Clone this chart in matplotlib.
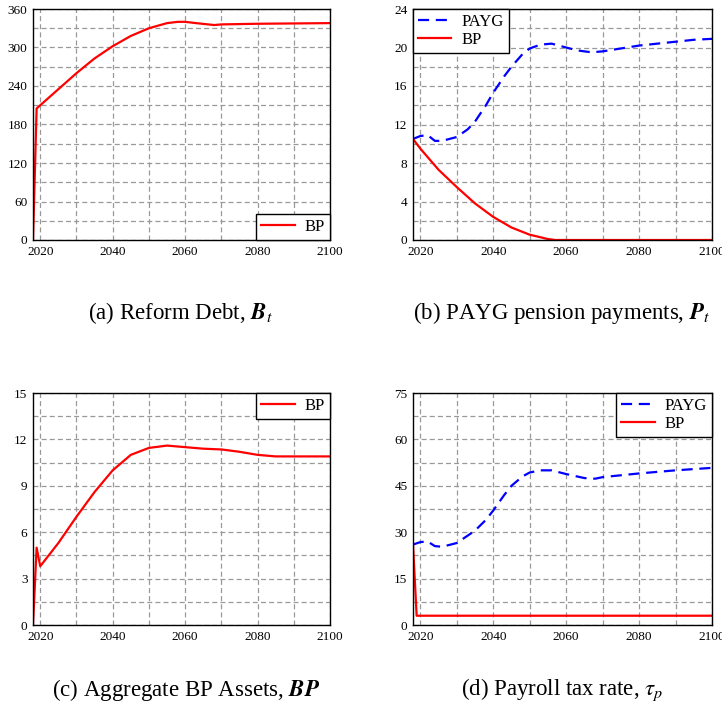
import numpy as np
import matplotlib
matplotlib.use("Agg")
import matplotlib.pyplot as plt
from matplotlib.ticker import MultipleLocator

plt.rcParams['font.family'] = 'Liberation Serif'
plt.rcParams['mathtext.fontset'] = 'stix'

# (a) Reform debt
debt_years = [2018, 2019, 2020, 2025, 2030, 2035, 2040, 2045, 2050, 2055, 2058, 2060,
              2063, 2068, 2070, 2080, 2090, 2100]
debt_bp = [0, 205, 210, 235, 260, 283, 302, 318, 330, 338, 340, 340,
           338, 335, 336, 337, 337.5, 338]

# (b) PAYG pension payments
pen_years_payg = [2018, 2020, 2022, 2024, 2026, 2030, 2033, 2035, 2038, 2040, 2043, 2045,
                  2048, 2050, 2053, 2056, 2060, 2063, 2067, 2070, 2075, 2080, 2085, 2090,
                  2095, 2100]
pen_payg = [10.5, 10.8, 10.9, 10.3, 10.3, 10.7, 11.5, 12.3, 14.0, 15.3, 17.0, 18.0,
            19.3, 19.9, 20.3, 20.4, 20.0, 19.7, 19.5, 19.6, 19.9, 20.2, 20.4, 20.6,
            20.8, 20.9]
pen_years_bp = [2018, 2020, 2025, 2030, 2035, 2040, 2045, 2050, 2055, 2057, 2070, 2100]
pen_bp = [10.5, 9.5, 7.3, 5.5, 3.8, 2.4, 1.3, 0.55, 0.1, 0.0, 0.0, 0.0]

# (c) Aggregate BP assets
ast_years = [2018, 2019, 2020, 2025, 2030, 2035, 2040, 2045, 2050, 2055, 2060, 2065,
             2070, 2075, 2080, 2085, 2090, 2100]
ast_bp = [0, 5.0, 3.8, 5.3, 7.0, 8.6, 10.0, 11.0, 11.45, 11.6, 11.5, 11.4,
          11.35, 11.2, 11.0, 10.9, 10.9, 10.9]

# (d) Payroll tax rate
tax_years_payg = [2018, 2020, 2022, 2024, 2026, 2030, 2035, 2038, 2040, 2043, 2045, 2048,
                  2050, 2053, 2056, 2060, 2065, 2068, 2070, 2080, 2090, 2100]
tax_payg = [26, 26.8, 27, 25.5, 25.3, 26.5, 30.5, 34, 37, 42, 45, 48,
            49.3, 50, 50, 48.8, 47.5, 47.3, 47.8, 49, 50, 50.8]
tax_years_bp = [2018, 2019, 2050, 2100]
tax_bp = [26, 3.0, 3.0, 3.0]

captions = [r'(a) Reform Debt, $\mathbfit{B}_t$',
            r'(b) PAYG pension payments, $\mathbfit{P}_t$',
            r'(c) Aggregate BP Assets, $\mathbfit{BP}$',
            r'(d) Payroll tax rate, $\tau_p$']

fig = plt.figure(figsize=(7.22, 7.14), dpi=100)
W, H = 722, 714


def make_ax(x0, y0, x1, y1):
    return fig.add_axes([x0 / W, 1 - y1 / H, (x1 - x0) / W, (y1 - y0) / H])


def style(ax, ymax, ystep):
    ax.set_xlim(2018, 2100)
    ax.set_ylim(0, ymax)
    ax.xaxis.set_major_locator(MultipleLocator(20))
    ax.xaxis.set_minor_locator(MultipleLocator(10))
    ax.yaxis.set_major_locator(MultipleLocator(ystep))
    ax.yaxis.set_minor_locator(MultipleLocator(ystep / 2))
    ax.grid(True, which='both', color='#999999', linestyle=(0, (4, 2.5)), linewidth=0.9)
    ax.set_axisbelow(True)
    ax.tick_params(which='both', length=0, labelsize=9.5, pad=4)
    for s in ax.spines.values():
        s.set_color('black')
        s.set_linewidth(1.0)


def legend(ax, loc):
    leg = ax.legend(loc=loc, fancybox=False, edgecolor='black', framealpha=1,
                    fontsize=12, borderaxespad=0, handlelength=2.0,
                    handletextpad=0.6, borderpad=0.3, labelspacing=0.1)
    leg.get_frame().set_linewidth(1.0)


red = dict(color='red', linewidth=1.6)
blue = dict(color='blue', linewidth=1.6, linestyle=(0, (5, 3)))

ax1 = make_ax(33, 9, 330, 240)
ax1.plot(debt_years, debt_bp, label='BP', **red)
style(ax1, 360, 60)
legend(ax1, 'lower right')

ax2 = make_ax(413, 9, 712, 240)
ax2.plot(pen_years_payg, pen_payg, label='PAYG', **blue)
ax2.plot(pen_years_bp, pen_bp, label='BP', **red)
style(ax2, 24, 4)
legend(ax2, 'upper left')

ax3 = make_ax(33, 393, 330, 625)
ax3.plot(ast_years, ast_bp, label='BP', **red)
style(ax3, 15, 3)
legend(ax3, 'upper right')

ax4 = make_ax(413, 393, 712, 625)
ax4.plot(tax_years_payg, tax_payg, label='PAYG', **blue)
ax4.plot(tax_years_bp, tax_bp, label='BP', **red)
style(ax4, 75, 15)
legend(ax4, 'upper right')

fig.text(180 / W, 1 - 313 / H, captions[0], ha='center', va='center', fontsize=16.5)
fig.text(562 / W, 1 - 313 / H, captions[1], ha='center', va='center', fontsize=16.5)
fig.text(186 / W, 1 - 690 / H, captions[2], ha='center', va='center', fontsize=16.5)
fig.text(562 / W, 1 - 690 / H, captions[3], ha='center', va='center', fontsize=16.5)

fig.savefig('out.png', dpi=100)
